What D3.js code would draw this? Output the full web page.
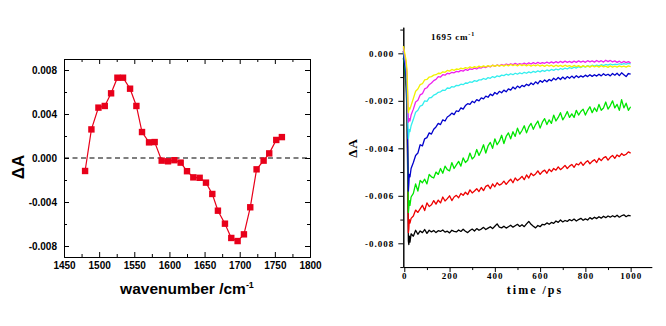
<!DOCTYPE html>
<html><head><meta charset="utf-8">
<script src="https://cdn.jsdelivr.net/npm/d3@7"></script>
<style>
body{margin:0;background:#fff;}
svg{display:block;}
</style></head><body>
<svg id="c" width="666" height="326"></svg>
<script>
// ---------- Left panel: transient spectrum ----------
const wavenumbers = [1480,1489,1499,1508,1517,1526,1534,1544,1553,1561,1571,1579,1589,1598,1607,1616,1625,1634,1643,1652,1661,1669,1679,1688,1697,1706,1715,1724,1734,1742,1752,1760];
const spectrumDeltaA = [-0.00118,0.0026,0.00458,0.00473,0.00588,0.0073,0.0073,0.0063,0.00473,0.00236,0.00142,0.00145,-0.00024,-0.0003,-0.0002,-0.00042,-0.0012,-0.00176,-0.0018,-0.00224,-0.00327,-0.00479,-0.00597,-0.00727,-0.00755,-0.00694,-0.00448,-0.00103,-0.00024,0.00042,0.00164,0.0019];
const specXTicks = [1450,1500,1550,1600,1650,1700,1750,1800];
const specXMinor = [1475,1525,1575,1625,1675,1725,1775];
const specYTicks = [-0.008,-0.004,0,0.004,0.008];
const specYMinor = [-0.006,-0.002,0.002,0.006];

// ---------- Right panel: kinetics at 1695 cm-1 (values in units of 1e-3) ----------
const times = [-4,0,4,8,12,16,18,20,22,25,30,
40,50,60,70,80,90,100,110,120,130,
140,150,160,170,180,190,200,210,220,230,
240,250,260,270,280,290,300,310,320,330,
340,350,360,370,380,390,400,410,420,430,
440,450,460,470,480,490,500,510,520,530,
540,550,560,570,580,590,600,610,620,630,
640,650,660,670,680,690,700,710,720,730,
740,750,760,770,780,790,800,810,820,830,
840,850,860,870,880,890,900,910,920,930,
940,950,960,970,980,990,1000];
const traceBlack = [-0.2,-0.5,-0.9,-1.4,-2.5,-6.0,-7.9,-8.05,-7.7,-7.95,-7.6,
-7.7,-7.45,-7.62,-7.48,-7.55,-7.42,-7.58,-7.45,-7.52,-7.46,
-7.55,-7.47,-7.5,-7.44,-7.53,-7.49,-7.56,-7.45,-7.5,-7.52,
-7.44,-7.5,-7.41,-7.49,-7.55,-7.46,-7.4,-7.48,-7.38,-7.45,
-7.4,-7.33,-7.42,-7.36,-7.3,-7.38,-7.28,-7.18,-7.32,-7.35,
-7.28,-7.36,-7.3,-7.24,-7.32,-7.26,-7.2,-7.29,-7.22,-7.3,
-7.18,-7.08,-7.2,-7.28,-7.35,-7.25,-7.3,-7.2,-7.22,-7.14,
-7.2,-7.12,-7.16,-7.06,-7.12,-7.02,-7.1,-7.04,-7.08,-7.0,
-7.05,-6.98,-7.06,-7.0,-6.95,-7.03,-6.97,-7.02,-6.92,-6.98,
-6.9,-6.96,-6.88,-6.94,-6.86,-6.92,-6.85,-6.9,-6.84,-6.89,
-6.82,-6.9,-6.84,-6.8,-6.88,-6.82,-6.85];
const traceRed = [0.1,-0.2,-0.5,-0.9,-1.8,-5.5,-7.55,-7.4,-7.0,-7.15,-6.95,
-6.85,-6.6,-6.7,-6.55,-6.4,-6.62,-6.3,-6.45,-6.38,-6.2,
-6.35,-6.18,-6.3,-6.05,-6.22,-6.12,-6.0,-6.2,-6.05,-5.98,
-6.08,-5.9,-5.98,-5.85,-5.95,-5.75,-5.88,-5.8,-5.7,-5.82,
-5.65,-5.78,-5.6,-5.55,-5.7,-5.5,-5.62,-5.45,-5.55,-5.5,
-5.38,-5.52,-5.4,-5.3,-5.45,-5.25,-5.36,-5.28,-5.18,-5.32,
-5.12,-5.25,-5.05,-5.15,-5.08,-4.95,-5.1,-4.98,-4.92,-5.05,
-4.88,-4.98,-4.85,-4.92,-4.78,-4.9,-4.82,-4.72,-4.85,-4.75,
-4.68,-4.8,-4.65,-4.7,-4.58,-4.72,-4.6,-4.52,-4.65,-4.55,
-4.48,-4.6,-4.42,-4.52,-4.4,-4.35,-4.5,-4.38,-4.3,-4.42,
-4.28,-4.35,-4.22,-4.3,-4.25,-4.15,-4.2];
const traceGreen = [0.05,-0.4,-0.8,-1.2,-2.0,-5.0,-6.7,-6.5,-6.2,-6.4,-6.05,
-5.9,-5.5,-5.8,-5.35,-5.45,-5.3,-5.5,-5.1,-5.2,-5.25,
-5.0,-5.1,-4.85,-5.05,-4.75,-4.9,-4.95,-4.6,-4.85,-4.7,
-4.55,-4.75,-4.4,-4.6,-4.5,-4.2,-4.45,-4.35,-4.05,-4.3,
-4.1,-3.85,-4.2,-3.9,-3.75,-4.0,-3.6,-3.85,-3.7,-3.45,
-3.8,-3.5,-3.35,-3.6,-3.3,-3.5,-3.15,-3.4,-3.25,-3.05,
-3.35,-3.1,-2.95,-3.2,-3.0,-2.85,-3.15,-2.9,-2.75,-3.0,
-2.8,-2.95,-2.6,-2.85,-2.7,-2.5,-2.8,-2.65,-2.45,-2.7,
-2.55,-2.7,-2.4,-2.6,-2.45,-2.35,-2.6,-2.4,-2.25,-2.5,
-2.3,-2.45,-2.15,-2.4,-2.3,-2.05,-2.35,-2.2,-2.0,-2.3,
-2.15,-2.4,-1.95,-2.3,-2.1,-2.4,-2.25];
const traceBlue = [0.1,-0.3,-0.6,-1.0,-1.8,-4.5,-5.8,-5.5,-5.1,-5.2,-4.85,
-4.6,-4.3,-4.2,-3.85,-3.9,-3.6,-3.55,-3.35,-3.4,-3.2,
-3.1,-2.95,-3.0,-2.8,-2.85,-2.68,-2.62,-2.52,-2.58,-2.42,
-2.45,-2.3,-2.35,-2.2,-2.12,-2.15,-2.02,-2.08,-1.95,-2.0,
-1.88,-1.92,-1.8,-1.85,-1.72,-1.78,-1.65,-1.72,-1.6,-1.66,
-1.55,-1.62,-1.5,-1.55,-1.42,-1.5,-1.38,-1.45,-1.35,-1.4,
-1.3,-1.36,-1.25,-1.32,-1.2,-1.28,-1.15,-1.22,-1.12,-1.2,
-1.1,-1.16,-1.05,-1.12,-1.02,-1.1,-1.0,-1.08,-0.98,-1.05,
-0.96,-1.04,-0.94,-1.02,-0.95,-1.0,-0.92,-0.98,-0.9,-0.97,
-0.9,-0.96,-0.88,-0.95,-0.86,-0.93,-0.88,-0.95,-0.85,-0.92,
-0.84,-0.94,-0.82,-0.9,-0.98,-0.85,-0.88];
const traceCyan = [0.2,-0.1,-0.3,-0.6,-1.2,-3.0,-3.6,-3.4,-3.2,-3.3,-3.05,
-2.78,-2.48,-2.4,-2.22,-2.18,-2.0,-2.02,-1.88,-1.86,-1.76,
-1.72,-1.64,-1.62,-1.55,-1.56,-1.46,-1.48,-1.4,-1.42,-1.35,
-1.36,-1.3,-1.32,-1.25,-1.26,-1.2,-1.22,-1.15,-1.18,-1.12,
-1.12,-1.06,-1.1,-1.02,-1.05,-0.98,-1.02,-0.95,-0.98,-0.92,
-0.94,-0.88,-0.92,-0.86,-0.9,-0.84,-0.88,-0.82,-0.86,-0.8,
-0.84,-0.78,-0.82,-0.76,-0.8,-0.74,-0.78,-0.72,-0.76,-0.7,
-0.74,-0.68,-0.72,-0.66,-0.7,-0.64,-0.68,-0.62,-0.66,-0.6,
-0.64,-0.58,-0.62,-0.56,-0.6,-0.54,-0.58,-0.52,-0.56,-0.5,
-0.54,-0.5,-0.53,-0.48,-0.52,-0.47,-0.5,-0.45,-0.49,-0.46,
-0.48,-0.44,-0.47,-0.43,-0.46,-0.42,-0.44];
const traceMagenta = [0.25,0.0,-0.2,-0.45,-0.9,-2.3,-2.9,-2.8,-2.75,-2.85,-2.6,
-2.35,-2.05,-1.98,-1.75,-1.7,-1.5,-1.45,-1.32,-1.25,-1.15,
-1.1,-0.98,-1.0,-0.9,-0.92,-0.84,-0.86,-0.8,-0.82,-0.76,
-0.78,-0.72,-0.75,-0.68,-0.72,-0.65,-0.68,-0.62,-0.66,-0.6,
-0.62,-0.56,-0.6,-0.54,-0.57,-0.5,-0.55,-0.49,-0.53,-0.47,
-0.51,-0.45,-0.49,-0.44,-0.48,-0.42,-0.47,-0.43,-0.46,-0.41,
-0.46,-0.4,-0.45,-0.39,-0.44,-0.38,-0.43,-0.39,-0.42,-0.37,
-0.42,-0.36,-0.41,-0.35,-0.4,-0.34,-0.39,-0.33,-0.38,-0.34,
-0.39,-0.33,-0.38,-0.32,-0.37,-0.33,-0.38,-0.31,-0.36,-0.32,
-0.37,-0.3,-0.36,-0.31,-0.37,-0.29,-0.35,-0.3,-0.36,-0.32,
-0.38,-0.33,-0.4,-0.34,-0.39,-0.35,-0.4];
const traceYellow = [0.3,0.1,-0.1,-0.3,-0.7,-2.0,-2.5,-2.4,-2.3,-2.35,-2.2,
-1.9,-1.6,-1.5,-1.32,-1.28,-1.12,-1.1,-1.0,-0.98,-0.92,
-0.9,-0.84,-0.85,-0.78,-0.8,-0.72,-0.75,-0.68,-0.72,-0.66,
-0.68,-0.62,-0.65,-0.6,-0.63,-0.57,-0.61,-0.56,-0.6,-0.54,
-0.58,-0.53,-0.57,-0.52,-0.56,-0.5,-0.55,-0.5,-0.54,-0.49,
-0.54,-0.48,-0.53,-0.47,-0.52,-0.48,-0.53,-0.47,-0.52,-0.48,
-0.53,-0.48,-0.54,-0.49,-0.53,-0.48,-0.54,-0.5,-0.55,-0.49,
-0.54,-0.5,-0.56,-0.5,-0.55,-0.51,-0.56,-0.5,-0.55,-0.52,
-0.57,-0.51,-0.56,-0.52,-0.58,-0.52,-0.57,-0.53,-0.58,-0.52,
-0.57,-0.53,-0.58,-0.52,-0.57,-0.54,-0.59,-0.53,-0.58,-0.54,
-0.58,-0.53,-0.57,-0.54,-0.58,-0.53,-0.56];
const traceNames = ["black","red","green","blue","cyan","magenta","yellow"];
const traceColors = ["#000000","#ee0000","#00e600","#0000cc","#33eeee","#ee22ee","#f2f200"];
const traceValues = [traceBlack,traceRed,traceGreen,traceBlue,traceCyan,traceMagenta,traceYellow];
const kinXTicks = [0,200,400,600,800,1000];
const kinXMinor = [100,300,500,700,900];
const kinYTicks = [-0.008,-0.006,-0.004,-0.002,0];
const kinYMinor = [-0.009,-0.007,-0.005,-0.003,-0.001,0.001];

const svg = d3.select("#c");
const fmt3 = d => d3.format(".3f")(d).replace("−","-");

// ===== Left panel =====
const L = {x0:64, x1:310, y0:59, y1:257};
const xs = d3.scaleLinear().domain([1450,1800]).range([L.x0,L.x1]);
const ys = d3.scaleLinear().domain([-0.009,0.009]).range([L.y1,L.y0]);
const gl = svg.append("g");

function styleAxis(g, font){
  g.selectAll("path,line").attr("stroke","#000").attr("stroke-width",1);
  g.selectAll("text").attr("fill","#000").style("font-family",font.family)
   .style("font-weight","bold").style("font-size",font.size+"px");
  g.attr("font-family",null).attr("font-size",null);
}
const fL = {family:"'Liberation Sans', Arial, sans-serif", size:10};
let a;
a = gl.append("g").attr("transform",`translate(0,${L.y1})`)
  .call(d3.axisBottom(xs).tickValues(specXTicks).tickSize(-5).tickSizeOuter(0).tickPadding(5).tickFormat(d3.format("d")));
styleAxis(a,fL);
a = gl.append("g").attr("transform",`translate(0,${L.y1})`)
  .call(d3.axisBottom(xs).tickValues(specXMinor).tickSize(-3).tickSizeOuter(0).tickFormat(""));
styleAxis(a,fL);
a = gl.append("g").attr("transform",`translate(0,${L.y0})`)
  .call(d3.axisTop(xs).tickValues(specXTicks).tickSize(-5).tickSizeOuter(0).tickFormat(""));
styleAxis(a,fL);
a = gl.append("g").attr("transform",`translate(0,${L.y0})`)
  .call(d3.axisTop(xs).tickValues(specXMinor).tickSize(-3).tickSizeOuter(0).tickFormat(""));
styleAxis(a,fL);
a = gl.append("g").attr("transform",`translate(${L.x0},0)`)
  .call(d3.axisLeft(ys).tickValues(specYTicks).tickSize(-5).tickSizeOuter(0).tickPadding(7).tickFormat(fmt3));
styleAxis(a,fL);
a = gl.append("g").attr("transform",`translate(${L.x0},0)`)
  .call(d3.axisLeft(ys).tickValues(specYMinor).tickSize(-3).tickSizeOuter(0).tickFormat(""));
styleAxis(a,fL);
a = gl.append("g").attr("transform",`translate(${L.x1},0)`)
  .call(d3.axisRight(ys).tickValues(specYTicks).tickSize(-5).tickSizeOuter(0).tickFormat(""));
styleAxis(a,fL);
a = gl.append("g").attr("transform",`translate(${L.x1},0)`)
  .call(d3.axisRight(ys).tickValues(specYMinor).tickSize(-3).tickSizeOuter(0).tickFormat(""));
styleAxis(a,fL);

// zero dashed line
gl.append("line").attr("x1",L.x0).attr("x2",L.x1).attr("y1",ys(0)).attr("y2",ys(0))
  .attr("stroke","#000").attr("stroke-width",1.2).attr("stroke-dasharray","5,3.5");

const spec = wavenumbers.map((w,i)=>({w, v:spectrumDeltaA[i]}));
gl.append("path").datum(spec)
  .attr("d", d3.line().x(d=>xs(d.w)).y(d=>ys(d.v)))
  .attr("fill","none").attr("stroke","#e8001a").attr("stroke-width",1.2);
gl.selectAll("rect.pt").data(spec).join("rect").attr("class","pt")
  .attr("x",d=>xs(d.w)-3.2).attr("y",d=>ys(d.v)-3.2).attr("width",6.4).attr("height",6.4)
  .attr("fill","#e8001a");

gl.append("text").attr("x",187).attr("y",294).attr("text-anchor","middle")
  .style("font-family","'Liberation Sans', Arial, sans-serif").style("font-weight","bold").style("font-size","15.5px")
  .text("wavenumber /cm")
  .append("tspan").attr("dy",-6).style("font-size","9px").text("-1");
gl.append("text").attr("transform","translate(24,167) rotate(-90)").attr("text-anchor","middle")
  .style("font-family","'Liberation Sans', Arial, sans-serif").style("font-weight","bold").style("font-size","17px")
  .text("ΔA");

// ===== Right panel =====
const xt = d3.scaleLinear().domain([-4.4,1093]).range([403.3,651.7]);
const yt = d3.scaleLinear().domain([-0.009,0.0011]).range([267.05,27.2]);
const gr = svg.append("g");
const fR = {family:"'Liberation Serif', 'Times New Roman', serif", size:9};

a = gr.append("g").attr("transform",`translate(0,${yt(-0.009)})`)
  .call(d3.axisBottom(xt).tickValues(kinXTicks).tickSize(5).tickSizeOuter(0).tickPadding(1).tickFormat(d3.format("d")));
styleAxis(a,fR); a.selectAll("text").style("letter-spacing","1px");
a = gr.append("g").attr("transform",`translate(0,${yt(-0.009)})`)
  .call(d3.axisBottom(xt).tickValues(kinXMinor).tickSize(3).tickSizeOuter(0).tickFormat(""));
styleAxis(a,fR);
a = gr.append("g").attr("transform",`translate(${xt(-4.4)},0)`)
  .call(d3.axisLeft(yt).tickValues(kinYTicks).tickSize(5).tickSizeOuter(0).tickPadding(4).tickFormat(fmt3));
styleAxis(a,fR); a.selectAll("text").style("letter-spacing","1px");
a = gr.append("g").attr("transform",`translate(${xt(-4.4)},0)`)
  .call(d3.axisLeft(yt).tickValues(kinYMinor).tickSize(3).tickSizeOuter(0).tickFormat(""));
styleAxis(a,fR);

const lineK = d3.line().x(d=>xt(d.t)).y(d=>yt(d.v));
traceValues.forEach((vals,k)=>{
  const pts = times.map((t,i)=>({t, v: vals[i]/1000}));
  gr.append("path").datum(pts).attr("class","trace-"+traceNames[k])
    .attr("d",lineK).attr("fill","none").attr("stroke",traceColors[k])
    .attr("stroke-width",1.3).attr("stroke-linejoin","round");
});

gr.append("text").attr("x",431).attr("y",40)
  .style("font-family","'Liberation Serif', 'Times New Roman', serif").style("font-weight","bold").style("font-size","9px")
  .style("letter-spacing","0.8px")
  .text("1695 cm")
  .append("tspan").attr("dy",-4).style("font-size","6px").text("-1");
gr.append("text").attr("x",535).attr("y",294).attr("text-anchor","middle")
  .style("font-family","'Liberation Serif', 'Times New Roman', serif").style("font-weight","bold").style("font-size","12px")
  .style("letter-spacing","2px")
  .text("time /ps");
gr.append("text").attr("transform","translate(357,148) rotate(-90)").attr("text-anchor","middle")
  .style("font-family","'Liberation Serif', 'Times New Roman', serif").style("font-weight","bold").style("font-size","13px")
  .style("letter-spacing","1px")
  .text("ΔA");
</script>
</body></html>
